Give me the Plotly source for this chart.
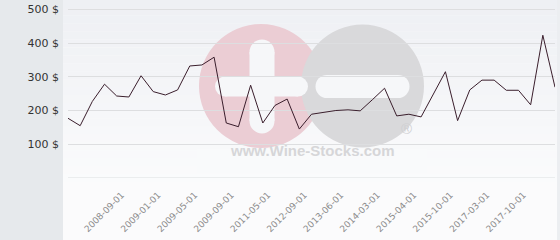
import plotly.graph_objects as go

# ---- data ----
prices = [177, 155, 227, 278, 243, 240, 303, 256, 246, 261,
          332, 335, 358, 163, 152, 275, 163, 215, 234, 145,
          189, 194, 200, 202, 199, 232, 266, 184, 189, 181,
          246, 315, 170, 261, 290, 290, 260, 260, 217, 423,
          269]
point_index = list(range(len(prices)))
tick_positions = [4, 7, 10, 13, 16, 19, 22, 25, 28, 31, 34, 37]
tick_labels = ["2008-09-01", "2009-01-01", "2009-05-01", "2009-09-01",
               "2011-05-01", "2012-09-01", "2013-06-01", "2014-03-01",
               "2015-04-01", "2015-10-01", "2017-03-01", "2017-10-01"]
y_tickvals = [0, 100, 200, 300, 400, 500]
y_ticktext = ["", "100 $", "200 $", "300 $", "400 $", "500 $"]

W, H = 560, 240
L, R, T, B = 68, 5, 0, 62
PW, PH = W - L - R, H - T - B


def px(x):
    return (x - L) / PW


def py(y):
    return (H - B - y) / PH


fig = go.Figure()
fig.add_trace(go.Scatter(x=point_index, y=prices, mode="lines",
                         line=dict(color="#3a1e2c", width=1),
                         hoverinfo="skip", showlegend=False))

shapes = []
# background gradient (right of left strip)
top = (238, 240, 244)
bot = (251, 251, 252)
n = 24
for i in range(n):
    t = i / (n - 1)
    c = tuple(int(round(top[k] + (bot[k] - top[k]) * t)) for k in range(3))
    y0 = i * 190 / n
    y1 = (i + 1) * 190 / n if i < n - 1 else H
    shapes.append(dict(type="rect", xref="paper", yref="paper", layer="below",
                       x0=px(63), x1=px(W), y0=py(y1), y1=py(y0),
                       fillcolor="rgb(%d,%d,%d)" % c, line=dict(width=0)))
# left gray strip
shapes.append(dict(type="rect", xref="paper", yref="paper", layer="below",
                   x0=px(0), x1=px(63), y0=py(H), y1=py(0),
                   fillcolor="#e6e9ec", line=dict(width=0)))
# right thin strip
shapes.append(dict(type="rect", xref="paper", yref="paper", layer="below",
                   x0=px(557), x1=px(W), y0=py(H), y1=py(0),
                   fillcolor="#eceef1", line=dict(width=0)))


def circle(cx, cy, r, color):
    return dict(type="circle", xref="paper", yref="paper", layer="below",
                x0=px(cx - r), x1=px(cx + r), y0=py(cy + r), y1=py(cy - r),
                fillcolor=color, line=dict(width=0))


def rect(x0, y0, x1, y1, color):
    return dict(type="rect", xref="paper", yref="paper", layer="below",
                x0=px(x0), x1=px(x1), y0=py(y1), y1=py(y0),
                fillcolor=color, line=dict(width=0))


pink = "#ebcdd4"
grey = "#d9d9db"
wm_white = "#f6f7f9"
# faint box behind watermark text
shapes.append(rect(197, 149, 427, 173, "#f9fafb"))
shapes.append(circle(261, 86, 62, pink))
shapes.append(circle(362.5, 86, 61.5, grey))
# plus
shapes.append(rect(249.5, 52, 274.5, 121, wm_white))
shapes.append(circle(262, 52, 12.5, wm_white))
shapes.append(circle(262, 121, 12.5, wm_white))
shapes.append(rect(225, 76.5, 298, 96.5, wm_white))
shapes.append(circle(225, 86.5, 10, wm_white))
shapes.append(circle(298, 86.5, 10, wm_white))
# minus
shapes.append(rect(327, 75, 398, 98, wm_white))
shapes.append(circle(327, 86.5, 11.5, wm_white))
shapes.append(circle(398, 86.5, 11.5, wm_white))
# zero grid line
shapes.append(dict(type="line", xref="paper", yref="y", layer="below",
                   x0=0, x1=1, y0=0, y1=0,
                   line=dict(color="#dddee0", width=1)))

annotations = [
    dict(text="<b>www.Wine-Stocks.com</b>", xref="paper", yref="paper",
         x=px(312), y=py(161), showarrow=False,
         font=dict(family="Liberation Sans, Arial", size=15, color="#d6d6d8")),
    dict(text="®", xref="paper", yref="paper",
         x=px(413.5), y=py(139), showarrow=False,
         font=dict(family="Liberation Sans, Arial", size=15, color="#cfcfd2")),
]

fig.update_layout(
    width=W, height=H,
    margin=dict(l=L, r=R, t=T, b=B, pad=0),
    paper_bgcolor="#fafafa",
    plot_bgcolor="rgba(0,0,0,0)",
    shapes=shapes,
    annotations=annotations,
    font=dict(family="DejaVu Sans"),
    xaxis=dict(range=[0, 40], tickvals=tick_positions, ticktext=tick_labels,
               tickangle=-45, showgrid=False, zeroline=False, showline=False,
               tickfont=dict(size=9, color="#8c8c8c"), ticks="",
               ticklabelstandoff=9, ticklabelshift=5),
    yaxis=dict(range=[0, 527.5], tickvals=y_tickvals, ticktext=y_ticktext,
               showgrid=True, gridcolor="#dddee0", gridwidth=1, zeroline=False,
               showline=False, ticks="", ticklabelstandoff=8,
               tickfont=dict(size=11, color="#333333")),
)

fig.write_html("out.html")
